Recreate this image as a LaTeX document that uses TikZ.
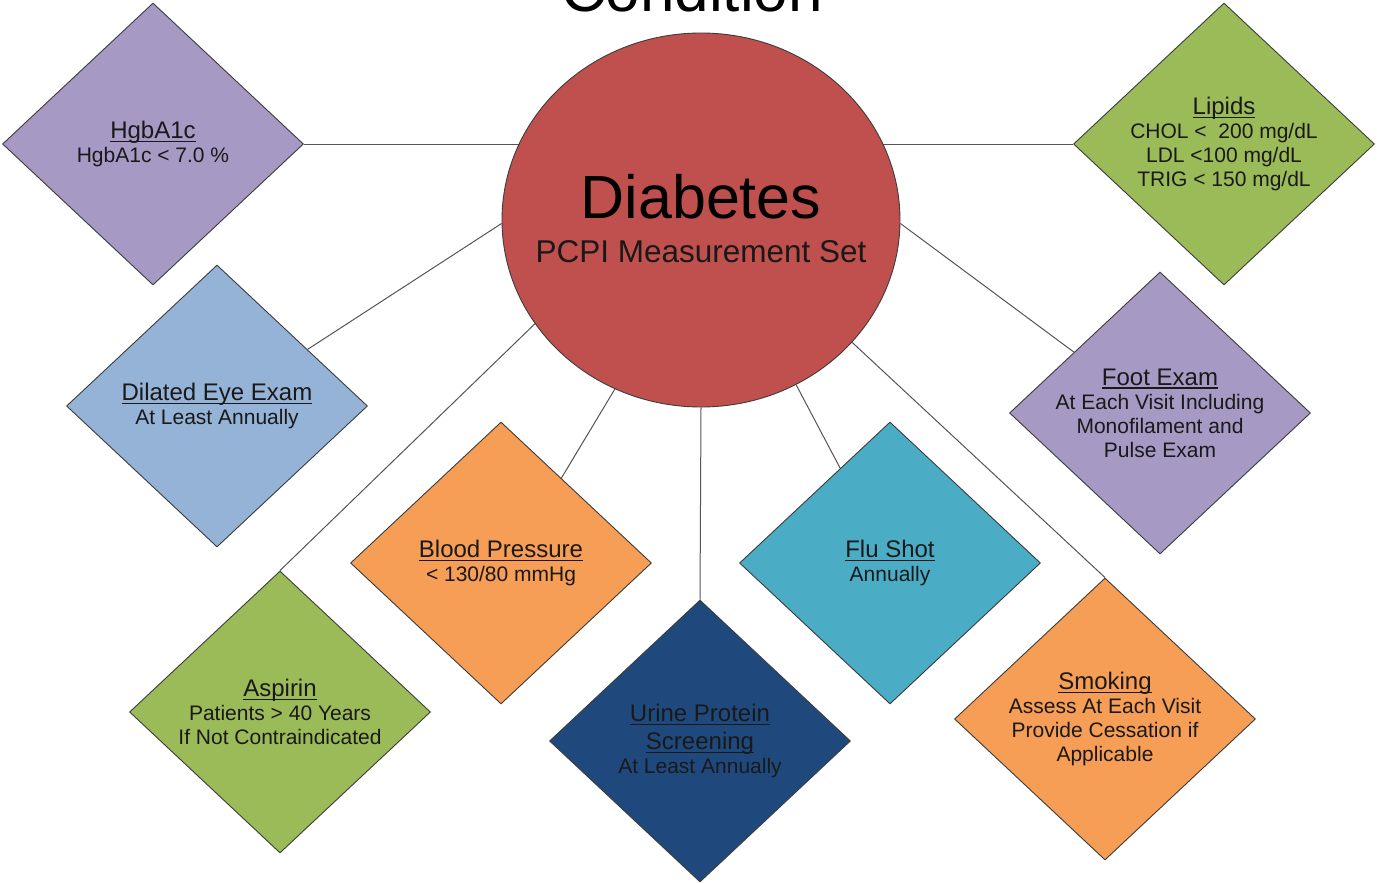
\documentclass[tikz,border=0pt]{standalone}
\usepackage{fontspec}
\setmainfont{Liberation Sans}
\usetikzlibrary{shapes.geometric,calc,backgrounds}
\definecolor{cPurple}{RGB}{166,153,196}
\definecolor{cGreen}{RGB}{155,187,89}
\definecolor{cLightBlue}{RGB}{149,179,215}
\definecolor{cOrange}{RGB}{246,157,86}
\definecolor{cAqua}{RGB}{75,172,198}
\definecolor{cNavy}{RGB}{31,73,125}
\definecolor{cRed}{RGB}{192,80,77}
\definecolor{cBorder}{RGB}{60,60,60}
\definecolor{cLine}{RGB}{85,85,85}
\definecolor{cText}{RGB}{25,25,25}
\newcommand\ulbox[1]{\setbox0\hbox{#1}\leavevmode\rlap{\rule[-3.5pt]{\wd0}{1.3pt}}\box0}
\newcommand\ttlfont{\fontsize{24}{28}\selectfont}
\tikzset{
  dia/.style={diamond, draw=cBorder, line width=0.9pt, minimum width=301pt, minimum height=282pt, inner sep=0pt},
  txt/.style={align=center, font=\fontsize{21}{24}\selectfont, text=cText, inner sep=0pt},
  conn/.style={draw=cLine, line width=1pt}
}
\begin{document}
\begin{tikzpicture}[x=1pt,y=-1pt]
\useasboundingbox (0,0) rectangle (1377,883);
\begin{scope}
\clip (0,0) rectangle (1377,883);
\node[anchor=base, font=\fontsize{62}{70}\selectfont, text=black, inner sep=0pt] (title) at (692,12) {Condition};
\end{scope}

% center
\node[ellipse, draw=cBorder, line width=0.9pt, fill=cRed, minimum width=398pt, minimum height=374pt, inner sep=0pt] (c) at (701,220) {};
\node[anchor=base, font=\fontsize{61}{70}\selectfont, text=black, inner sep=0pt] (cdia) at (701,218) {Diabetes};
\node[anchor=base, font=\fontsize{31.5}{36}\selectfont, text=cText, inner sep=0pt] (cpcpi) at (701,262) {PCPI Measurement Set};

% diamonds
\node[dia, fill=cPurple] (h) at (153,144) {};
\node[txt] (ht) at (153,144) {{\ttlfont\ulbox{HgbA1c}}\\HgbA1c < 7.0 \%};

\node[dia, fill=cGreen] (l) at (1224,144) {};
\node[txt] (lt) at (1224,144) {{\ttlfont\ulbox{Lipids}}\\CHOL <\ \ 200 mg/dL\\LDL <100 mg/dL\\TRIG < 150 mg/dL};

\node[dia, fill=cLightBlue] (e) at (217,406) {};
\node[txt] (et) at (217,406) {{\ttlfont\ulbox{Dilated Eye Exam}}\\At Least Annually};

\node[dia, fill=cPurple] (f) at (1160,413) {};
\node[txt] (ft) at (1160,413) {{\ttlfont\ulbox{Foot Exam}}\\At Each Visit Including\\Monofilament and\\Pulse Exam};

\node[dia, fill=cOrange] (b) at (501,563) {};
\node[txt] (bt) at (501,563) {{\ttlfont\ulbox{Blood Pressure}}\\< 130/80 mmHg};

\node[dia, fill=cAqua] (fl) at (890,563) {};
\node[txt] (flt) at (890,563) {{\ttlfont\ulbox{Flu Shot}}\\Annually};

\node[dia, fill=cGreen] (a) at (280,712) {};
\node[txt] (at) at (280,712) {{\ttlfont\ulbox{Aspirin}}\\Patients > 40 Years\\If Not Contraindicated};

\node[dia, fill=cNavy] (u) at (700,741) {};
\node[txt] (ut) at (700,741) {{\ttlfont\ulbox{Urine Protein}}\\[4pt]{\ttlfont\ulbox{Screening}}\\At Least Annually};

\node[dia, fill=cOrange] (s) at (1105,719) {};
\node[txt] (st) at (1105,719) {{\ttlfont\ulbox{Smoking}}\\Assess At Each Visit\\Provide Cessation if\\Applicable};

% connectors
\begin{scope}[on background layer]
\fill[white] (0,0) rectangle (1377,883);
\draw[conn] (h.east) -- (h.east -| c.center);
\draw[conn] (l.west) -- (l.west -| c.center);
\draw[conn] ($(e.north)!0.6!(e.east)$) -- (c.181);
\draw[conn] ($(f.north)!0.57!(f.west)$) -- (c.359);
\draw[conn] (a.north) -- (c.212.8);
\draw[conn] ($(b.north)!0.4!(b.east)$) -- (c.243.7);
\draw[conn] (u.north) -- (c.south);
\draw[conn] ($(fl.north)!0.33!(fl.west)$) -- (c.300.8);
\draw[conn] (s.north) -- (c.321.7);
\end{scope}
\end{tikzpicture}
\end{document}
